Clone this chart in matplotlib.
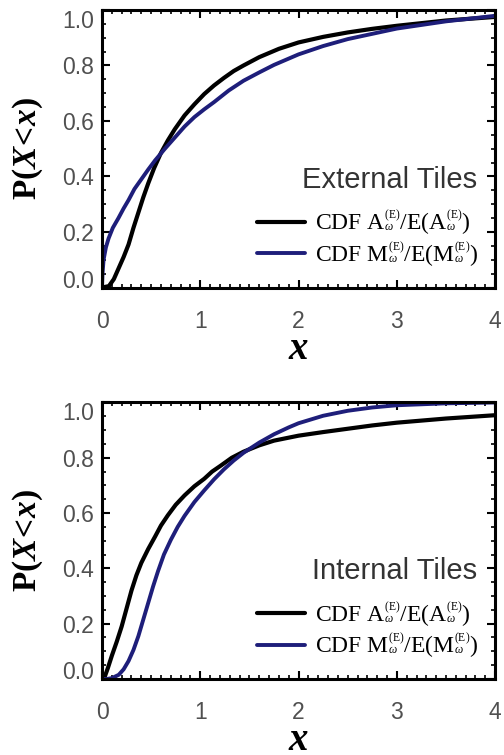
import matplotlib
matplotlib.use("Agg")
import matplotlib.pyplot as plt
from matplotlib.ticker import MultipleLocator

plt.rcParams['mathtext.fontset'] = 'custom'
plt.rcParams['mathtext.rm'] = 'Liberation Serif'
plt.rcParams['mathtext.it'] = 'Liberation Serif:italic'
plt.rcParams['mathtext.bf'] = 'Liberation Serif:bold'
plt.rcParams['mathtext.bfit'] = 'Liberation Serif:bold:italic'

# ---- data ----
ext_a_x = [0, 0.07, 0.12, 0.17, 0.22, 0.27, 0.32, 0.37, 0.42, 0.47, 0.53, 0.6, 0.67, 0.74, 0.84, 0.94,
           1.04, 1.14, 1.24, 1.34, 1.44, 1.6, 1.8, 2.0, 2.25, 2.5, 2.75, 3.0, 3.5, 4.0]
ext_a_y = [0, 0.005, 0.03, 0.07, 0.11, 0.155, 0.215, 0.27, 0.325, 0.375, 0.43, 0.485, 0.53, 0.57, 0.62, 0.66,
           0.697, 0.728, 0.755, 0.78, 0.80, 0.83, 0.86, 0.883, 0.903, 0.919, 0.932, 0.943, 0.962, 0.975]
ext_m_x = [0, 0.005, 0.016, 0.04, 0.067, 0.11, 0.167, 0.22, 0.27, 0.33, 0.4, 0.47, 0.54, 0.64, 0.74, 0.84, 0.94,
           1.04, 1.14, 1.29, 1.44, 1.6, 1.75, 2.0, 2.25, 2.5, 3.0, 3.5, 4.0]
ext_m_y = [0, 0.05, 0.1, 0.145, 0.177, 0.215, 0.25, 0.285, 0.315, 0.355, 0.39, 0.425, 0.458, 0.50, 0.54, 0.58, 0.614,
           0.642, 0.668, 0.71, 0.745, 0.775, 0.802, 0.84, 0.87, 0.895, 0.933, 0.959, 0.979]

int_a_x = [0, 0.02, 0.06, 0.1, 0.15, 0.2, 0.25, 0.3, 0.35, 0.4, 0.47, 0.54, 0.6, 0.67, 0.75, 0.84, 0.94,
           1.04, 1.12, 1.21, 1.32, 1.44, 1.6, 1.75, 2.0, 2.25, 2.5, 2.75, 3.0, 3.5, 4.0]
int_a_y = [0, 0.0, 0.04, 0.084, 0.135, 0.19, 0.255, 0.32, 0.375, 0.42, 0.47, 0.515, 0.555, 0.592, 0.63, 0.664, 0.697,
           0.724, 0.75, 0.772, 0.80, 0.822, 0.845, 0.862, 0.88, 0.893, 0.905, 0.917, 0.927, 0.942, 0.954]
int_m_x = [0, 0.05, 0.1, 0.17, 0.22, 0.27, 0.32, 0.37, 0.42, 0.47, 0.52, 0.57, 0.63, 0.7, 0.77, 0.84, 0.94,
           1.04, 1.14, 1.24, 1.34, 1.44, 1.6, 1.75, 1.9, 2.0, 2.25, 2.5, 2.75, 3.0, 3.5, 4.0]
int_m_y = [0, 0, 0.003, 0.015, 0.035, 0.065, 0.105, 0.155, 0.215, 0.275, 0.335, 0.39, 0.45, 0.503, 0.55, 0.59, 0.64,
           0.682, 0.722, 0.758, 0.79, 0.818, 0.855, 0.885, 0.91, 0.925, 0.952, 0.97, 0.982, 0.99, 0.997, 1.0]

panel_titles = ["External Tiles", "Internal Tiles"]
label_a = r'CDF A$_{^\omega}^{_{(\mathrm{E})}}$/E(A$_{^\omega}^{_{(\mathrm{E})}}$)'
label_m = r'CDF M$_{^\omega}^{_{(\mathrm{E})}}$/E(M$_{^\omega}^{_{(\mathrm{E})}}$)'
x_ticks = [0, 1, 2, 3, 4]
y_ticks = [0.0, 0.2, 0.4, 0.6, 0.8, 1.0]

BLUE = '#1e1e7a'
TICKC = '#505050'

fig = plt.figure(figsize=(5.04, 7.55), dpi=100)
ax1 = fig.add_axes([0.2024, 0.6192, 0.780, 0.3676])
ax2 = fig.add_axes([0.2024, 0.1007, 0.780, 0.3662])

panels = [(ax1, ext_a_x, ext_a_y, ext_m_x, ext_m_y, panel_titles[0]),
          (ax2, int_a_x, int_a_y, int_m_x, int_m_y, panel_titles[1])]

for ax, ax_, ay_, mx_, my_, title in panels:
    ax.plot(ax_, ay_, color='black', lw=3.0, label=label_a, solid_capstyle='round',
            solid_joinstyle='round')
    ax.plot(mx_, my_, color=BLUE, lw=2.8, label=label_m, solid_capstyle='round',
            solid_joinstyle='round')
    ax.set_xlim(0, 4)
    ax.set_ylim(0, 1.0)
    ax.set_xticks(x_ticks)
    ax.set_xticklabels([str(t) for t in x_ticks])
    ax.set_yticks(y_ticks)
    ax.set_yticklabels(['%.1f' % t for t in y_ticks])
    ax.xaxis.set_minor_locator(MultipleLocator(0.1))
    ax.yaxis.set_minor_locator(MultipleLocator(0.05))
    ax.tick_params(which='both', direction='in', top=True, right=True,
                   colors='black', labelcolor=TICKC)
    ax.tick_params(which='major', length=6, width=1.5)
    ax.tick_params(which='minor', length=3, width=1.2)
    ax.tick_params(axis='x', which='major', pad=16, labelsize=16.5)
    ax.tick_params(axis='y', which='major', pad=6, labelsize=16.5)
    for lab in ax.get_xticklabels() + ax.get_yticklabels():
        lab.set_family('Liberation Sans')
    ylabs = ax.get_yticklabels()
    ylabs[-1].set_va('top')
    ylabs[0].set_va('baseline')
    for sp in ax.spines.values():
        sp.set_linewidth(2.2)
    ax.set_xlabel(r'$\mathbfit{x}$', fontsize=28, labelpad=-3)
    ax.set_ylabel(r'$\mathbf{P(}\mathbfit{X}\!\mathbf{<}\!\mathbfit{x}\mathbf{)}$',
                  fontsize=24, labelpad=12)
    ax.text(0.955, 0.36, title, transform=ax.transAxes, ha='right', va='baseline',
            fontsize=21, color='#333333', family='Liberation Sans')
    ax.legend(loc='upper left', bbox_to_anchor=(0.395, 0.285), frameon=False,
              prop={'family': 'Liberation Serif', 'size': 17},
              handlelength=2.0, handletextpad=0.45, labelspacing=0.1,
              borderpad=0, borderaxespad=0)

fig.savefig('out.png', dpi=100)
